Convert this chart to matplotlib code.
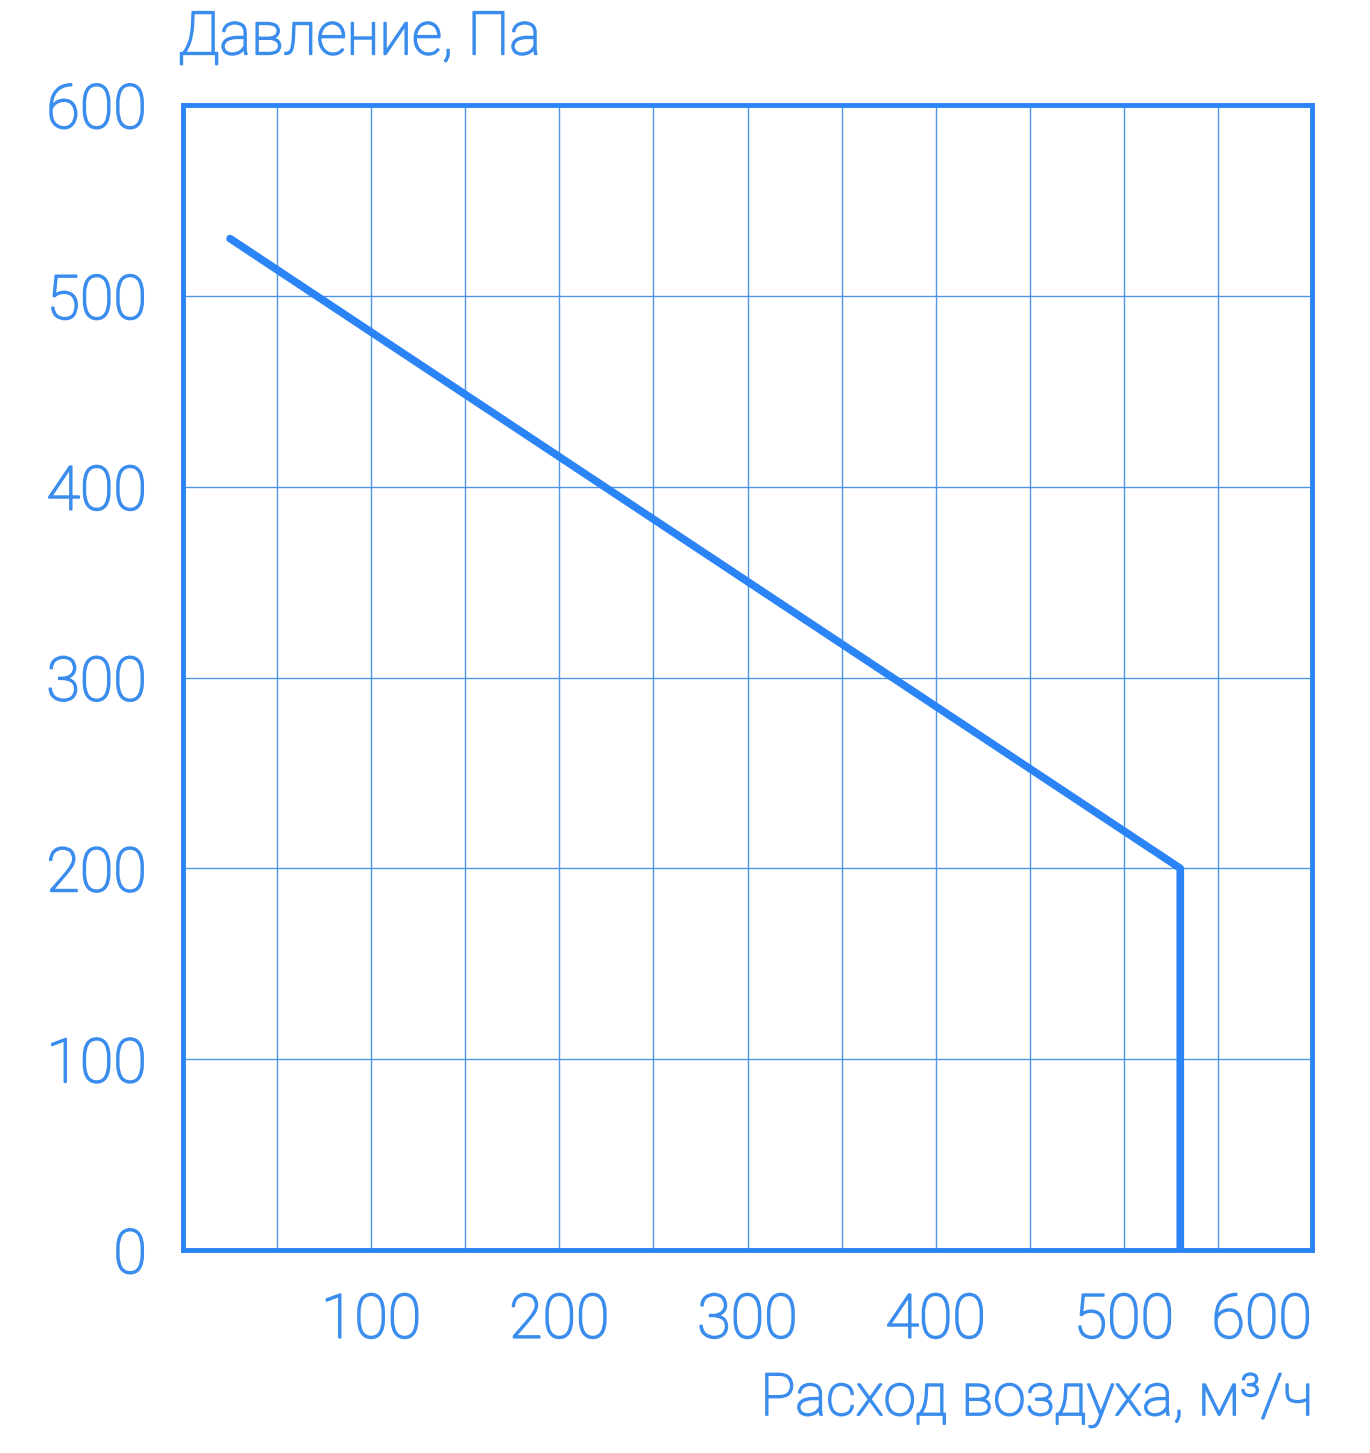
import matplotlib.pyplot as plt
import matplotlib.patheffects as pe

# flow (m3/h) vs pressure (Pa)
flow = [25, 530, 530]
pressure = [530, 200, 0]

x_ticks = [100, 200, 300, 400, 500, 600]
y_ticks = [0, 100, 200, 300, 400, 500, 600]
x_grid = list(range(0, 601, 50))

line_color = '#2b84f5'
text_color = '#3a8ced'
grid_color = '#4f96ea'

plt.rcParams['font.family'] = ['Roboto', 'DejaVu Sans']
thicken = [pe.withStroke(linewidth=1.3, foreground=text_color)]

fig = plt.figure(figsize=(13.7, 14.53), dpi=100)
ax = fig.add_axes([183/1370, 1 - 1250/1453, (1312-183)/1370, (1250-105)/1453])

ax.set_xlim(0, 600)
ax.set_ylim(0, 600)

for xv in x_grid:
    ax.axvline(xv, color=grid_color, linewidth=1.0, zorder=1)
for yv in y_ticks:
    ax.axhline(yv, color=grid_color, linewidth=1.0, zorder=1)

ax.plot(flow, pressure, color=line_color, linewidth=5.5, solid_capstyle='round',
        solid_joinstyle='round', zorder=3)

for s in ax.spines.values():
    s.set_color(line_color)
    s.set_linewidth(3.5)

ax.set_xticks(x_ticks)
ax.set_xticklabels([str(v) for v in x_ticks])
ax.set_yticks(y_ticks)
ax.set_yticklabels([str(v) for v in y_ticks])
ax.tick_params(length=0, labelsize=44, labelcolor=text_color)
ax.tick_params(axis='x', pad=30)
ax.tick_params(axis='y', pad=26)
for lbl in ax.get_xticklabels() + ax.get_yticklabels():
    lbl.set_fontweight('light')
    lbl.set_path_effects(thicken)
ax.get_xticklabels()[-1].set_horizontalalignment('right')

fig.text(178/1370, 1 - 38/1453, 'Давление, Па', fontsize=43, color=text_color,
         fontweight='light', ha='left', va='center', path_effects=thicken)
fig.text(1314/1370, 1 - 1400/1453, 'Расход воздуха, м³/ч', fontsize=42,
         color=text_color, fontweight='light', ha='right', va='center',
         path_effects=thicken)

fig.savefig('out.png', dpi=100)
